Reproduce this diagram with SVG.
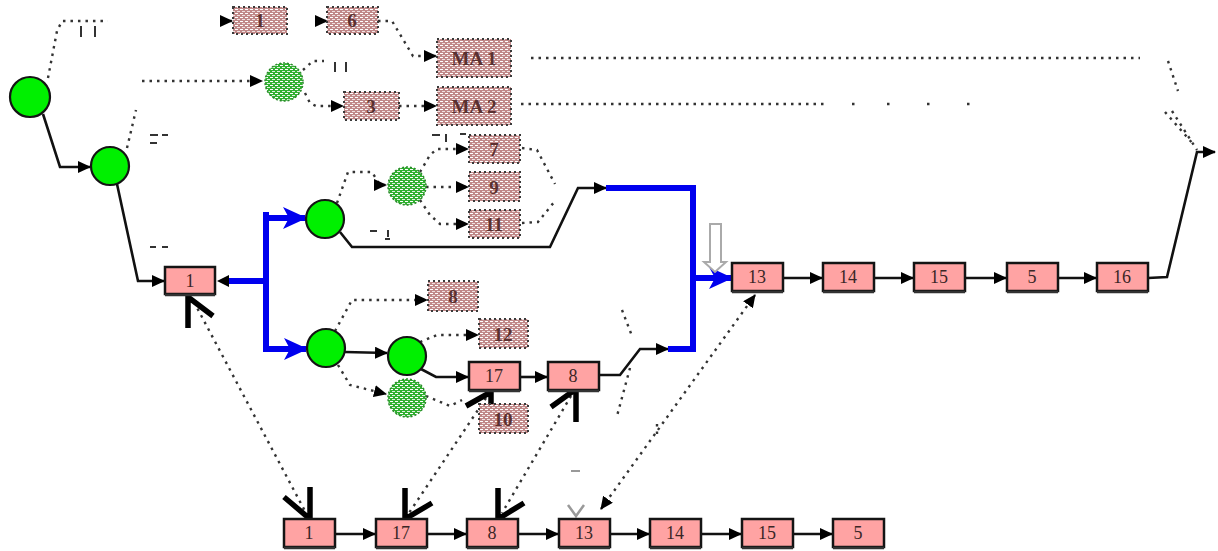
<svg xmlns="http://www.w3.org/2000/svg" width="1218" height="551" viewBox="0 0 1218 551">
<defs>
<style>
.box{fill:#ffa3a3;stroke:#141414;stroke-width:2.5}
.sh{stroke:#333;stroke-width:2.5}
.lbl{font-family:"Liberation Serif",serif;font-size:18px;fill:#3a2626;text-anchor:middle}
.glbl{font-family:"Liberation Serif",serif;font-size:19px;fill:#5a3030;text-anchor:middle;font-weight:bold}
.gbox{fill:url(#gp);stroke:#3a3a3a;stroke-width:2;stroke-dasharray:2 3}
.node{fill:#00f000;stroke:#141414;stroke-width:2.2}
.gnode{fill:url(#gg);stroke:#2a8a2a;stroke-width:1.5;stroke-dasharray:2 2}
.ln{fill:none;stroke:#111;stroke-width:2.6}
.bl{fill:none;stroke:#0000ee;stroke-width:6}
.dot{fill:none;stroke:#333;stroke-width:2.4;stroke-dasharray:2.5 5}
.thick{fill:none;stroke:#000;stroke-width:5.5}
.mk{stroke:#333;stroke-width:2;fill:none}
</style>
<pattern id="gp" width="5" height="4" patternUnits="userSpaceOnUse"><rect width="5" height="4" fill="#c08888"/><rect x="0" y="1" width="3" height="1" fill="#fff"/><rect x="2" y="3" width="3" height="1" fill="#f0e0e0"/></pattern>
<pattern id="gg" width="5" height="4" patternUnits="userSpaceOnUse"><rect width="5" height="4" fill="#30b030"/><rect x="0" y="1" width="3" height="1" fill="#fff"/><rect x="2" y="3" width="3" height="1" fill="#e0f0e0"/></pattern>
<marker id="ah" markerWidth="13" markerHeight="12" refX="12" refY="6" orient="auto" markerUnits="userSpaceOnUse"><path d="M0,0 L13,6 L0,12 z" fill="#000"/></marker>
<marker id="ah2" markerWidth="13" markerHeight="12" refX="12" refY="6" orient="auto-start-reverse" markerUnits="userSpaceOnUse"><path d="M0,0 L13,6 L0,12 z" fill="#000"/></marker>
<marker id="bh" markerWidth="24" markerHeight="22" refX="22" refY="11" orient="auto" markerUnits="userSpaceOnUse"><path d="M0,0 L24,11 L0,22 L6,11 z" fill="#0000ee"/></marker>
</defs>
<rect width="1218" height="551" fill="#fff"/>

<g id="connectors">
<path class="ln" d="M43,114 L60,167 L90,167" marker-end="url(#ah)"/>
<path class="ln" d="M117,184 L138,281 L164,281" marker-end="url(#ah)"/>
<path d="M217,281 L229,275 L229,287 z" fill="#000"/>
<path class="ln" d="M340,232 L352,247 L550,247 L578,188 L606,188" marker-end="url(#ah)"/>
<path class="ln" d="M345,352 L387,353" marker-end="url(#ah)"/>
<path class="ln" d="M421,369 L436,377 L468,377" marker-end="url(#ah)"/>
<path class="ln" d="M520,377 L547,377" marker-end="url(#ah)"/>
<path class="ln" d="M600,375 L620,375 L640,349 L668,349" marker-end="url(#ah)"/>
<path class="ln" d="M783,278 L822,278" marker-end="url(#ah)"/>
<path class="ln" d="M874,278 L913,278" marker-end="url(#ah)"/>
<path class="ln" d="M965,278 L1006,278" marker-end="url(#ah)"/>
<path class="ln" d="M1058,278 L1096,278" marker-end="url(#ah)"/>
<path class="ln" d="M1148,278 L1167,277 L1197,152 L1215,152" marker-end="url(#ah)"/>
<path class="ln" d="M335,534 L375,534" marker-end="url(#ah)"/>
<path class="ln" d="M427,534 L466,534" marker-end="url(#ah)"/>
<path class="ln" d="M518,534 L558,534" marker-end="url(#ah)"/>
<path class="ln" d="M610,534 L649,534" marker-end="url(#ah)"/>
<path class="ln" d="M701,534 L741,534" marker-end="url(#ah)"/>
<path class="ln" d="M793,534 L832,534" marker-end="url(#ah)"/>
<path class="bl" d="M229,281 H266"/>
<path class="bl" d="M266,212 V352"/>
<path class="bl" d="M266,218 H305" marker-end="url(#bh)"/>
<path class="bl" d="M266,349 H306" marker-end="url(#bh)"/>
<path class="bl" d="M606,188 H693 V349 H668"/>
<path class="bl" d="M693,278 H731" marker-end="url(#bh)"/>
<path class="dot" d="M48,78 L57,31 L62,21 H108"/>
<path class="mk" d="M81,26 V37 M95,26 V37"/>
<path class="dot" d="M222,21 H232" marker-end="url(#ah)"/>
<path class="dot" d="M316,21 H327" marker-end="url(#ah)"/>
<path class="dot" d="M378,21 H392 L413,56 H436" marker-end="url(#ah)"/>
<path class="dot" d="M127,148 L136,110"/>
<path class="mk" d="M150,135 H158 M162,135 H168 M150,143 H157"/>
<path class="dot" d="M142,81 H262" stroke-dasharray="3 34" marker-end="url(#ah)"/>
<path class="dot" d="M303,70 L313,61 H324"/>
<path class="mk" d="M335,62 V72 M346,62 V72"/>
<path class="dot" d="M305,93 L310,103 L316,106 H343" marker-end="url(#ah)"/>
<path class="dot" d="M399,106 H436" marker-end="url(#ah)"/>
<path class="dot" d="M531,58 H1140" stroke-dasharray="3 2.5 3 2.5 3 2.5 3 2.5 3 15"/>
<path class="dot" d="M521,104 H826" stroke-dasharray="3 2.5 3 2.5 3 2.5 3 2.5 3 15"/>
<path class="dot" d="M852,104 H856 M887,104 H894 M927,104 H934 M967,104 H974" stroke-dasharray="3 3"/>
<path class="dot" d="M1168,61 L1178,91"/>
<path class="dot" d="M1172,111 L1197,150"/>
<path class="dot" d="M1165,112 L1194,145"/>
<path class="mk" d="M432,135 H440 M446,134 V142 M460,134 H466"/>
<path class="dot" d="M420,172 L430,155 L437,149 H468" marker-end="url(#ah)"/>
<path class="dot" d="M426,187 H468" marker-end="url(#ah)"/>
<path class="dot" d="M420,200 L430,215 L440,224 H468" marker-end="url(#ah)"/>
<path class="dot" d="M522,148 L537,150 L555,184"/>
<path class="dot" d="M522,223 L538,222 L555,201"/>
<path class="dot" d="M337,203 L348,172 H372 L380,185 H386" marker-end="url(#ah)"/>
<path class="mk" d="M370,231 H377 M388,230 V237 M385,239 H390"/>
<path class="mk" d="M150,247 H156 M162,247 H168"/>
<path class="dot" d="M335,331 L352,300 H427" marker-end="url(#ah)"/>
<path class="dot" d="M420,342 L437,335 H478" marker-end="url(#ah)"/>
<path class="dot" d="M338,365 L350,385 L386,394" marker-end="url(#ah)"/>
<path class="dot" d="M426,396 L450,406 L462,400"/>
<path class="dot" d="M622,310 L632,336"/>
<path class="dot" d="M630,368 L617,416"/>
<path class="dot" d="M657,424 V436"/>
<path class="dot" d="M194,302 L306,513"/>
<path class="dot" d="M486,398 L409,513"/>
<path class="dot" d="M571,396 L502,513"/>
<path class="dot" d="M601,509 L755,295" marker-start="url(#ah2)" marker-end="url(#ah2)"/>
<polyline class="thick" points="188,328 188,297 213,316"/>
<polyline class="thick" points="284,497 310,519 310,487"/>
<polyline class="thick" points="491,421 491,392 466,406"/>
<polyline class="thick" points="405,488 405,519 432,503"/>
<polyline class="thick" points="576,422 576,389 551,407"/>
<polyline class="thick" points="498,488 498,519 524,503"/>
<path d="M710,224 H721 V262 H726 L715,272 L704,262 H710 z" fill="#fff" stroke="#aaa" stroke-width="2"/>
<polyline points="568,505 576,516 584,505" fill="none" stroke="#999" stroke-width="2.5"/>
<path d="M571,471 H580" stroke="#999" stroke-width="2"/>
</g>

<g id="nA"><circle class="node" cx="30" cy="97" r="20"/></g>
<g id="nB"><circle class="node" cx="110" cy="166" r="19"/></g>
<g id="nC"><circle class="node" cx="325" cy="219" r="19"/></g>
<g id="nD"><circle class="node" cx="326" cy="348" r="19"/></g>
<g id="nE"><circle class="node" cx="407" cy="356" r="19"/></g>
<g id="nF"><circle class="gnode" cx="407" cy="398" r="19"/></g>
<g id="nG"><circle class="gnode" cx="284" cy="82" r="19"/></g>
<g id="nH"><circle class="gnode" cx="407" cy="186" r="19"/></g>

<g id="g1"><rect class="gbox" x="233" y="7" width="54" height="27"/><text class="glbl" x="260" y="27">1</text></g>
<g id="g6"><rect class="gbox" x="327" y="7" width="51" height="27"/><text class="glbl" x="352" y="27">6</text></g>
<g id="gMA1"><rect class="gbox" x="437" y="39" width="74" height="38"/><text class="glbl" x="474" y="65">MA 1</text></g>
<g id="gMA2"><rect class="gbox" x="437" y="87" width="74" height="38"/><text class="glbl" x="474" y="113">MA 2</text></g>
<g id="g3"><rect class="gbox" x="344" y="92" width="55" height="28"/><text class="glbl" x="371" y="113">3</text></g>
<g id="g7"><rect class="gbox" x="469" y="135" width="51" height="28"/><text class="glbl" x="494" y="156">7</text></g>
<g id="g9"><rect class="gbox" x="469" y="172" width="51" height="29"/><text class="glbl" x="494" y="194">9</text></g>
<g id="g11"><rect class="gbox" x="469" y="210" width="51" height="28"/><text class="glbl" x="494" y="231">11</text></g>
<g id="g8"><rect class="gbox" x="428" y="281" width="50" height="30"/><text class="glbl" x="453" y="303">8</text></g>
<g id="g12"><rect class="gbox" x="479" y="319" width="49" height="29"/><text class="glbl" x="503" y="341">12</text></g>
<g id="g10"><rect class="gbox" x="479" y="404" width="49" height="29"/><text class="glbl" x="503" y="426">10</text></g>

<g id="b1"><rect class="box" x="165" y="267" width="50" height="27"/><line class="sh" x1="165" y1="295" x2="215" y2="295"/><text class="lbl" x="190" y="287">1</text></g>
<g id="b17"><rect class="box" x="469" y="362" width="51" height="28"/><line class="sh" x1="469" y1="391" x2="520" y2="391"/><text class="lbl" x="494" y="382">17</text></g>
<g id="b8"><rect class="box" x="548" y="362" width="51" height="28"/><line class="sh" x1="548" y1="391" x2="599" y2="391"/><text class="lbl" x="573" y="382">8</text></g>
<g id="b13"><rect class="box" x="732" y="263" width="51" height="28"/><line class="sh" x1="732" y1="292" x2="783" y2="292"/><text class="lbl" x="757" y="283">13</text></g>
<g id="b14"><rect class="box" x="823" y="263" width="51" height="28"/><line class="sh" x1="823" y1="292" x2="874" y2="292"/><text class="lbl" x="848" y="283">14</text></g>
<g id="b15"><rect class="box" x="914" y="263" width="51" height="28"/><line class="sh" x1="914" y1="292" x2="965" y2="292"/><text class="lbl" x="939" y="283">15</text></g>
<g id="b5"><rect class="box" x="1007" y="263" width="51" height="28"/><line class="sh" x1="1007" y1="292" x2="1058" y2="292"/><text class="lbl" x="1032" y="283">5</text></g>
<g id="b16"><rect class="box" x="1097" y="263" width="51" height="28"/><line class="sh" x1="1097" y1="292" x2="1148" y2="292"/><text class="lbl" x="1122" y="283">16</text></g>

<g id="r1"><rect class="box" x="284" y="519" width="51" height="28"/><line class="sh" x1="284" y1="548" x2="335" y2="548"/><text class="lbl" x="309" y="539">1</text></g>
<g id="r17"><rect class="box" x="376" y="519" width="51" height="28"/><line class="sh" x1="376" y1="548" x2="427" y2="548"/><text class="lbl" x="401" y="539">17</text></g>
<g id="r8"><rect class="box" x="467" y="519" width="51" height="28"/><line class="sh" x1="467" y1="548" x2="518" y2="548"/><text class="lbl" x="492" y="539">8</text></g>
<g id="r13"><rect class="box" x="559" y="519" width="51" height="28"/><line class="sh" x1="559" y1="548" x2="610" y2="548"/><text class="lbl" x="584" y="539">13</text></g>
<g id="r14"><rect class="box" x="650" y="519" width="51" height="28"/><line class="sh" x1="650" y1="548" x2="701" y2="548"/><text class="lbl" x="675" y="539">14</text></g>
<g id="r15"><rect class="box" x="742" y="519" width="51" height="28"/><line class="sh" x1="742" y1="548" x2="793" y2="548"/><text class="lbl" x="767" y="539">15</text></g>
<g id="r5"><rect class="box" x="833" y="519" width="51" height="28"/><line class="sh" x1="833" y1="548" x2="884" y2="548"/><text class="lbl" x="858" y="539">5</text></g>
</svg>
